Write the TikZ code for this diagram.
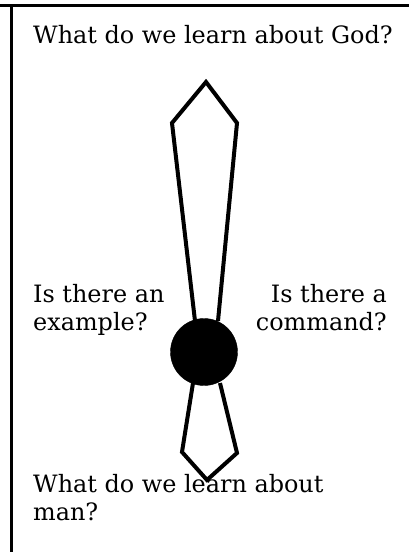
\documentclass[tikz,border=0pt]{standalone}
\usepackage{fontspec}
\setmainfont{DejaVu Serif}
\begin{document}
\begin{tikzpicture}[x=1pt,y=-1pt,
  qtext/.style={inner sep=0pt,font=\fontsize{23.9}{28}\selectfont},
  key/.style={line width=4pt,line join=miter}]
\useasboundingbox (0,0) rectangle (409,552);
\draw[line width=3pt] (0,5) -- (409,5);
\draw[line width=3pt] (11.5,5) -- (11.5,552);
\node[draw,circle,fill=black,minimum size=67pt,inner sep=0pt] (hub) at (204,352) {};
\draw[key] (195,321) -- (172,123) -- (206,82) -- (237,123) -- (218,321);
\draw[key] (193,383) -- (182,452) -- (207,480) -- (237,453) -- (220,383);
\node[qtext,anchor=base west] (god) at (33,43) {What do we learn about God?};
\node[qtext,anchor=base west,align=left] (example) at (33,330) {Is there an\\example?};
\node[qtext,anchor=base east,align=right] (command) at (387,330) {Is there a\\command?};
\node[qtext,anchor=base west,align=left] (man) at (33,520) {What do we learn about\\man?};
\end{tikzpicture}
\end{document}
